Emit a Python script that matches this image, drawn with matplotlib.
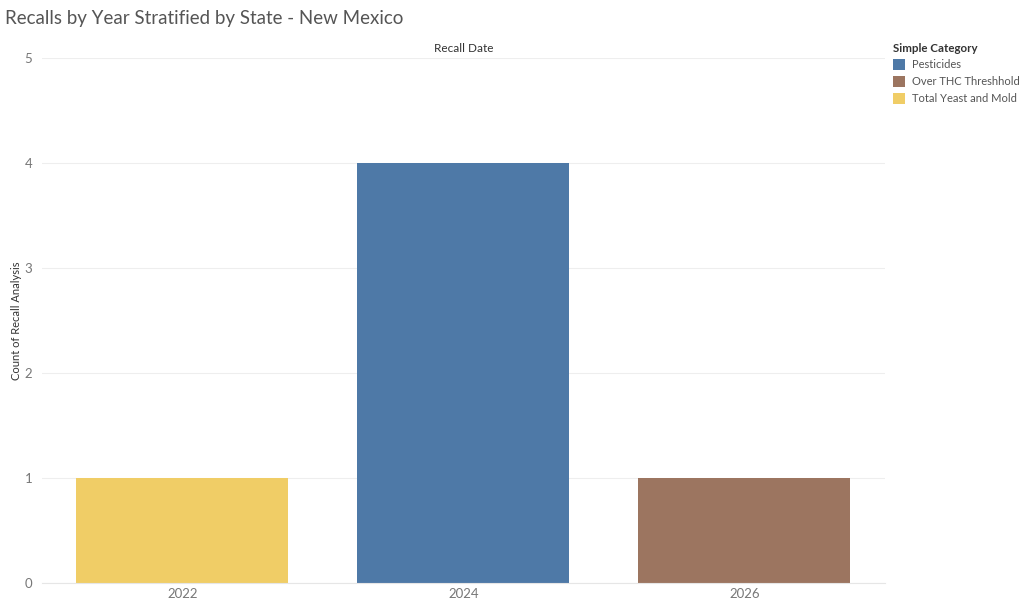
import matplotlib
matplotlib.use("Agg")
import matplotlib.pyplot as plt
import numpy as np
from matplotlib.patches import Patch

# dados do grafico
anos = ["2022", "2024", "2026"]
categorias = ["Pesticides", "Over THC Threshhold", "Total Yeast and Mold"]
pesticides = [0, 4, 0]
over_thc = [0, 0, 1]
yeast_mold = [1, 0, 0]
cores = ["#4E79A7", "#9C7560", "#F0CD66"]

plt.rcParams["font.family"] = ["Lato", "DejaVu Sans"]

fig = plt.figure(figsize=(10.24, 6.03), dpi=100)
ax = fig.add_axes([0.041, 0.0332, 0.823, 0.8706])

x = np.arange(len(anos))
base = np.zeros(len(anos))
for serie, cor in zip([pesticides, over_thc, yeast_mold], cores):
    ax.bar(x, serie, bottom=base, width=0.755, color=cor, zorder=2)
    base += np.array(serie)

ax.set_xlim(-0.5, 2.5)
ax.set_ylim(0, 5)
ax.set_yticks(range(6))
ax.set_xticks(x)
ax.set_xticklabels(anos)
ax.tick_params(axis="both", length=0, colors="#777777", labelsize=9.5)
ax.tick_params(axis="y", pad=7)
ax.grid(axis="y", color="#eeeeee", linewidth=0.8, zorder=0)
for lado in ["top", "right", "left"]:
    ax.spines[lado].set_visible(False)
ax.spines["bottom"].set_color("#e6e6e6")

ax.set_ylabel("Count of Recall Analysis", fontsize=8, color="#333333")
ax.yaxis.set_label_coords(-0.024, 0.5)
ax.set_title("Recall Date", fontsize=8.5, color="#333333", pad=4)

fig.text(0.005, 0.97, "Recalls by Year Stratified by State - New Mexico",
         fontsize=13.5, color="#555555", va="center", ha="left")

# legenda
handles = [Patch(facecolor=c, edgecolor="none") for c in cores]
leg = fig.legend(handles, categorias, loc="upper left", bbox_to_anchor=(0.872, 0.928),
                 frameon=False, fontsize=8, title="Simple Category",
                 title_fontsize=8.3, handlelength=1.1, handleheight=1.2,
                 handletextpad=0.6, labelspacing=0.5, borderaxespad=0, borderpad=0)
leg._legend_box.align = "left"
leg._legend_box.sep = 3
leg.get_title().set_color("#333333")
leg.get_title().set_fontweight("bold")
for t in leg.get_texts():
    t.set_color("#555555")

plt.savefig("out.png", dpi=100)
